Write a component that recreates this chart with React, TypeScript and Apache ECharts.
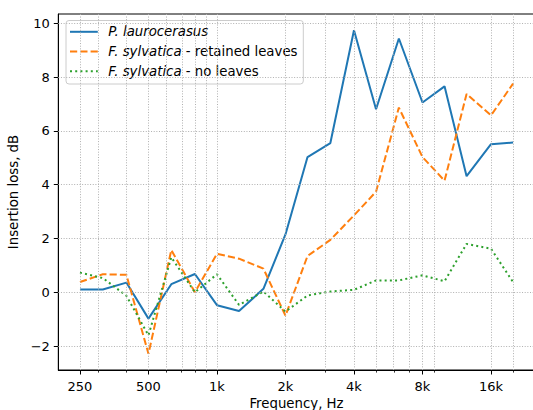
import React, { useEffect, useRef } from "react";
import * as echarts from "echarts";

const freqs = [250, 315, 400, 500, 630, 800, 1000, 1250, 1600, 2000, 2500, 3150, 4000, 5000, 6300, 8000, 10000, 12500, 16000, 20000];
const laurocerasus = [0.1, 0.1, 0.36, -0.98, 0.3, 0.68, -0.48, -0.7, 0.13, 2.15, 5.03, 5.55, 9.75, 6.81, 9.44, 7.06, 7.66, 4.32, 5.51, 5.57];
const sylvaticaRetained = [0.38, 0.67, 0.65, -2.29, 1.57, 0.0, 1.43, 1.25, 0.88, -0.87, 1.35, 1.95, 2.86, 3.74, 6.87, 5.03, 4.15, 7.38, 6.58, 7.76];
const sylvaticaNoLeaves = [0.73, 0.53, -0.13, -1.6, 1.3, 0.0, 0.67, -0.47, 0.03, -0.72, -0.12, 0.03, 0.09, 0.44, 0.44, 0.63, 0.41, 1.8, 1.62, 0.38];

const xTickFreqs = [250, 500, 1000, 2000, 4000, 8000, 16000];
const xTickLabels = ["250", "500", "1k", "2k", "4k", "8k", "16k"];
const xMinorFreqs = [300, 400, 600, 700, 800, 900, 3000, 5000, 6000, 7000, 9000, 20000];
const yTicks = [-2, 0, 2, 4, 6, 8, 10];

const FONT = "DejaVu Sans";
const lx = (f: number) => Math.log2(f / 250);

export default function App() {
  const ref = useRef<HTMLDivElement>(null);
  useEffect(() => {
    if (!ref.current) return;
    const chart = echarts.init(ref.current, undefined, { renderer: "svg" });
    const span = lx(20000) - lx(250);
    const xMin = lx(250) - 0.05 * span;
    const xMax = lx(20000) + 0.05 * span;
    const allY = [...laurocerasus, ...sylvaticaRetained, ...sylvaticaNoLeaves];
    const yLo = Math.min(...allY), yHi = Math.max(...allY);
    const yMin = yLo - 0.05 * (yHi - yLo);
    const yMax = yHi + 0.05 * (yHi - yLo);
    const toData = (vals: number[]) => freqs.map((f, i) => [lx(f), vals[i]]);
    const gridStyle = { color: "#b0b0b0", width: 1, type: [1, 1.65] as any };
    const lw = 2;
    const dash = [7.2, 3.1];
    const dot = [2, 3.2];
    const tickFont = 13;
    const bigFont = 13.3;
    const option: any = {
      animation: false,
      textStyle: { fontFamily: FONT },
      grid: {
        left: 58.3, right: -1.7, top: 14, bottom: 40,
        containLabel: false, outerBoundsMode: "none",
        show: true, borderColor: "#000", borderWidth: 1, backgroundColor: "transparent",
      },
      xAxis: [
        {
          type: "value",
          min: xMin,
          max: xMax,
          name: "Frequency, Hz",
          nameLocation: "middle",
          nameGap: 25,
          nameTextStyle: { fontFamily: FONT, fontSize: bigFont, color: "#000" },
          axisLine: { show: true, onZero: false, lineStyle: { color: "#000", width: 1 } },
          axisTick: { show: true, length: 4.5, lineStyle: { color: "#000", width: 1 }, customValues: xTickFreqs.map(lx) },
          axisLabel: {
            show: true,
            margin: 9.5,
            fontFamily: FONT,
            fontSize: tickFont,
            color: "#000",
            customValues: xTickFreqs.map(lx),
            formatter: (v: number) => {
              const i = xTickFreqs.findIndex((f) => Math.abs(lx(f) - v) < 1e-6);
              return i >= 0 ? xTickLabels[i] : "";
            },
          },
          splitLine: { show: false },
        },
        {
          type: "value",
          min: xMin,
          max: xMax,
          position: "bottom",
          axisLine: { show: false, onZero: false },
          axisTick: { show: true, length: 2.6, lineStyle: { color: "#000", width: 0.8 }, customValues: xMinorFreqs.map(lx) },
          axisLabel: { show: false },
          splitLine: { show: false },
        },
      ],
      yAxis: {
        type: "value",
        min: yMin,
        max: yMax,
        name: "Insertion loss, dB",
        nameLocation: "middle",
        nameGap: 34,
        nameRotate: 90,
        nameTextStyle: { fontFamily: FONT, fontSize: bigFont, color: "#000" },
        axisLine: { show: true, onZero: false, lineStyle: { color: "#000", width: 1 } },
        axisTick: { show: true, length: 4.5, lineStyle: { color: "#000", width: 1 }, customValues: yTicks },
        axisLabel: {
          margin: 8.4,
          fontFamily: FONT,
          fontSize: tickFont,
          color: "#000",
          customValues: yTicks,
          formatter: (v: number) => (v < 0 ? "\u2212" + Math.abs(Math.round(v)) : String(Math.round(v))),
        },
        splitLine: { show: false },
      },
      series: [
        {
          type: "line",
          data: [],
          z: 1,
          silent: true,
          markLine: {
            silent: true,
            symbol: ["none", "none"],
            label: { show: false },
            lineStyle: gridStyle,
            emphasis: { disabled: true },
            data: [
              ...[...xTickFreqs, ...xMinorFreqs].map((f) => ({ xAxis: lx(f) })),
              ...yTicks.map((v) => ({ yAxis: v })),
            ],
          },
        },
        {
          name: "P. laurocerasus",
          type: "line",
          z: 3,
          showSymbol: false,
          symbol: "none",
          data: toData(laurocerasus),
          lineStyle: { color: "#1f77b4", width: lw },
          itemStyle: { color: "#1f77b4" },
        },
        {
          name: "F. sylvatica - retained leaves",
          type: "line",
          z: 3,
          showSymbol: false,
          symbol: "none",
          data: toData(sylvaticaRetained),
          lineStyle: { color: "#ff7f0e", width: lw, type: dash },
          itemStyle: { color: "#ff7f0e" },
        },
        {
          name: "F. sylvatica - no leaves",
          type: "line",
          z: 3,
          showSymbol: false,
          symbol: "none",
          data: toData(sylvaticaNoLeaves),
          lineStyle: { color: "#2ca02c", width: lw, type: dot },
          itemStyle: { color: "#2ca02c" },
        },
      ],
      graphic: [
        {
          type: "group",
          z: 100,
          children: [
            { type: "rect", shape: { x: 66, y: 20.5, width: 237.3, height: 63.5, r: 3 }, style: { fill: "rgba(255,255,255,0.8)", stroke: "#cccccc", lineWidth: 1 } },
            { type: "line", shape: { x1: 70, y1: 31.8, x2: 97.8, y2: 31.8 }, style: { stroke: "#1f77b4", lineWidth: lw } },
            { type: "line", shape: { x1: 70, y1: 51.5, x2: 97.8, y2: 51.5 }, style: { stroke: "#ff7f0e", lineWidth: lw, lineDash: dash } },
            { type: "line", shape: { x1: 70, y1: 71.3, x2: 97.8, y2: 71.3 }, style: { stroke: "#2ca02c", lineWidth: lw, lineDash: dot } },
            {
              type: "text", x: 108.3, y: 31.8,
              style: { text: "{i|P. laurocerasus}", verticalAlign: "middle", fontFamily: FONT, fontSize: bigFont, fill: "#000", rich: { i: { fontStyle: "italic", fontFamily: FONT, fontSize: bigFont } } },
            },
            {
              type: "text", x: 108.3, y: 51.5,
              style: { text: "{i|F. sylvatica}{n| - retained leaves}", verticalAlign: "middle", fontFamily: FONT, fontSize: bigFont, fill: "#000", rich: { i: { fontStyle: "italic", fontFamily: FONT, fontSize: bigFont }, n: { fontFamily: FONT, fontSize: bigFont } } },
            },
            {
              type: "text", x: 108.3, y: 71.3,
              style: { text: "{i|F. sylvatica}{n| - no leaves}", verticalAlign: "middle", fontFamily: FONT, fontSize: bigFont, fill: "#000", rich: { i: { fontStyle: "italic", fontFamily: FONT, fontSize: bigFont }, n: { fontFamily: FONT, fontSize: bigFont } } },
            },
          ],
        },
      ],
    };
    chart.setOption(option);
    return () => chart.dispose();
  }, []);
  return <div ref={ref} style={{ position: "fixed", left: 0, top: 0, width: 533, height: 410, background: "#fff" }} />;
}
